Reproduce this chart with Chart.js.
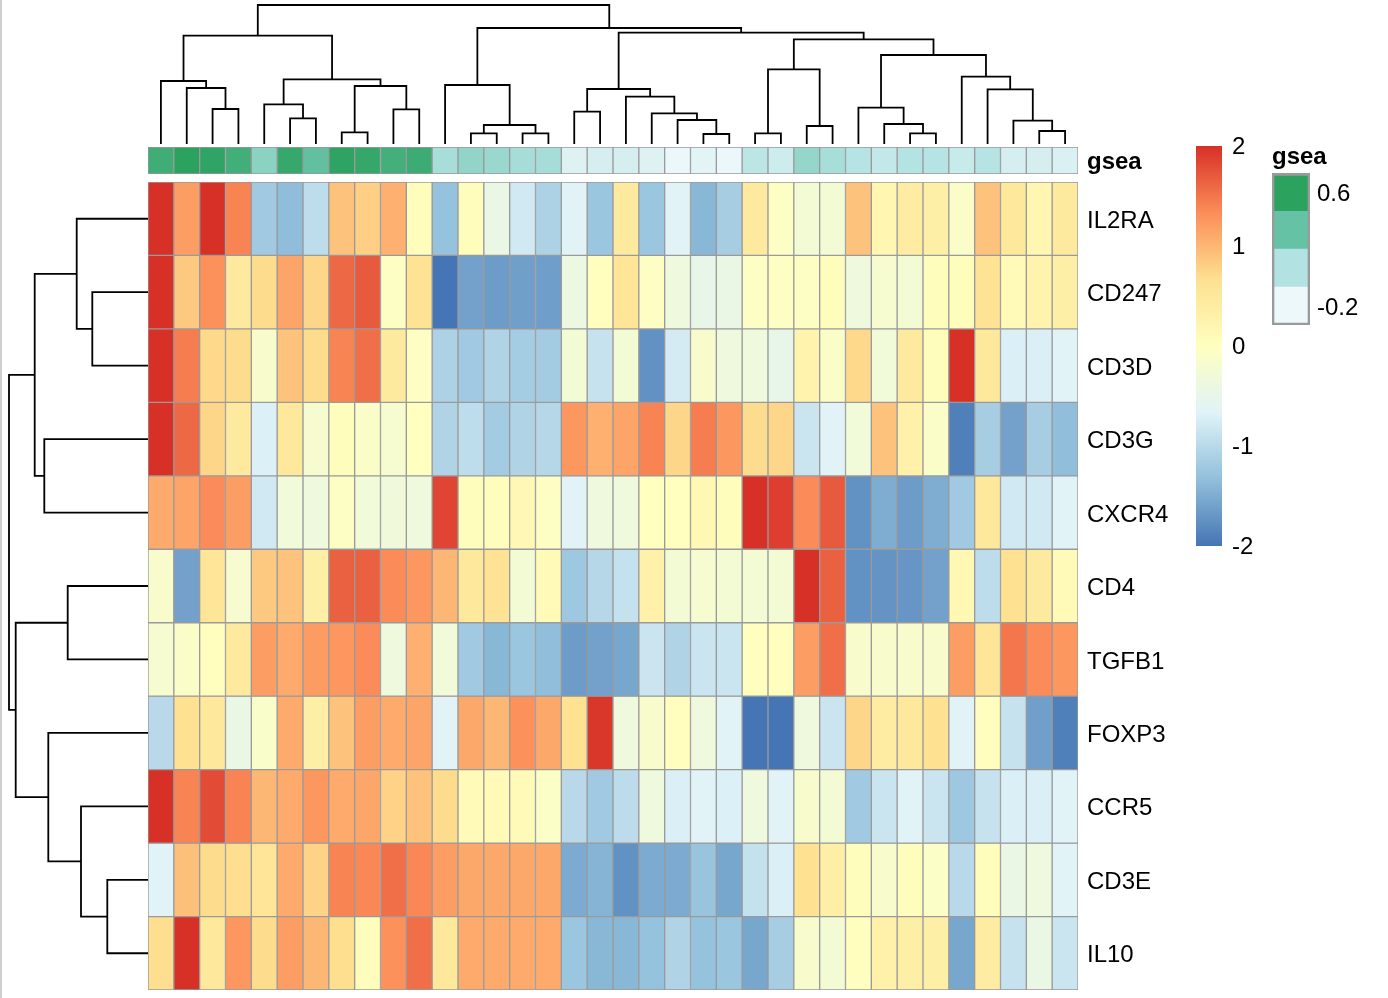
<!DOCTYPE html>
<html lang="en">
<head>
<meta charset="UTF-8">
<title>gsea heatmap</title>
<script src="https://cdn.jsdelivr.net/npm/chart.js@4.4.0/dist/chart.umd.min.js"></script>
<style>
  body { margin: 0; background: #fff; }
  .stage { position: relative; width: 1388px; height: 998px; overflow: hidden; background: #fff; }
  canvas { position: absolute; }
  .edge { position: absolute; left: 0; top: 0; width: 2px; height: 998px; background: #cfcfcf; }
</style>
</head>
<body>
<div class="stage">
  <div class="edge"></div>
  <canvas id="colTree" width="930" height="144" style="left:148px;top:0px"></canvas>
  <canvas id="rowTree" width="148" height="808" style="left:0px;top:182px"></canvas>
  <canvas id="annot" width="1040" height="27" style="left:148px;top:147px"></canvas>
  <canvas id="heat" width="1040" height="808" style="left:148px;top:182px"></canvas>
  <canvas id="colorbar" width="70" height="436" style="left:1196px;top:128px"></canvas>
  <canvas id="gseaLegend" width="98" height="182" style="left:1272px;top:143px"></canvas>
</div>
<script>
// row labels (top to bottom)
const genes = ["IL2RA", "CD247", "CD3D", "CD3G", "CXCR4", "CD4", "TGFB1", "FOXP3", "CCR5", "CD3E", "IL10"];

// scaled expression, 36 columns in dendrogram order
const IL2RA = [2, 1.2, 2, 1.4, -1.2, -1.35, -0.95, 0.9, 0.8, 1.05, 0.05, -1.3, 0.05, -0.45, -0.8, -1.1, -0.65, -1.25, 0.45, -1.25, -0.65, -1.4, -1.15, 0.45, -0.05, -0.25, -0.25, 0.9, 0.2, 0.4, 0.35, -0.1, 0.9, 0.5, 0.2, 0.45];
const CD247 = [2, 0.85, 1.3, 0.45, 0.7, 1.15, 0.75, 1.6, 1.7, -0.05, 0.6, -2, -1.6, -1.65, -1.62, -1.63, -0.4, 0.02, 0.55, -0.05, -0.35, -0.5, -0.45, -0.05, -0.05, -0.05, 0.05, -0.35, -0.2, -0.25, 0.05, 0.05, 0.6, 0.1, 0.25, 0.35];
const CD3D = [2, 1.45, 0.72, 0.7, -0.15, 0.9, 0.7, 1.4, 1.55, 0.45, -0.05, -1.1, -1.2, -1.07, -1.17, -1.18, -0.25, -0.88, -0.25, -1.75, -0.77, -0.15, -0.35, -0.35, -0.5, 0.25, -0.1, 0.72, -0.3, 0.45, 0.05, 2, 0.5, -0.72, -0.72, -0.65];
const CD3G = [2, 1.6, 0.75, 0.45, -0.7, 0.5, -0.2, 0.05, -0.1, -0.2, 0, -1.07, -0.95, -1.18, -1.07, -1.03, 1.25, 1.05, 1.15, 1.4, 0.75, 1.45, 1.25, 0.7, 0.75, -0.85, -0.65, -0.3, 0.9, 0.3, -0.1, -1.9, -1.15, -1.6, -1.15, -1.33];
const CXCR4 = [1.1, 1.15, 1.35, 1.2, -0.8, -0.3, -0.35, -0.05, -0.3, -0.32, -0.35, 1.85, 0.05, 0.05, 0.15, -0.05, -0.65, -0.35, -0.35, 0, 0, 0.15, 0.05, 2, 1.9, 1.35, 1.7, -1.75, -1.5, -1.65, -1.5, -1.2, 0.5, -0.8, -0.8, -0.65];
const CD4 = [-0.15, -1.6, 0.55, -0.2, 0.85, 0.9, 0.35, 1.65, 1.65, 1.35, 1.25, 1.0, 0.5, 0.6, -0.25, 0.1, -1.22, -1.03, -0.9, 0.3, -0.25, -0.2, -0.25, -0.25, -0.25, 2, 1.65, -1.75, -1.72, -1.7, -1.6, 0.15, -0.95, 0.65, 0.45, 0.1];
const TGFB1 = [-0.2, -0.1, 0.02, 0.45, 1.2, 1.1, 1.22, 1.25, 1.35, -0.35, 1.05, -0.3, -1.2, -1.4, -1.25, -1.33, -1.65, -1.6, -1.55, -0.85, -1.07, -0.85, -0.85, 0.02, 0.02, 1.2, 1.55, -0.15, -0.15, -0.15, -0.15, 1.2, 0.55, 1.5, 1.35, 1.25];
const FOXP3 = [-1.0, 0.65, 0.5, -0.45, -0.12, 1.1, 0.35, 0.9, 1.2, 1.1, 1.15, -0.65, 1.12, 1.0, 1.3, 1.12, 0.65, 1.95, -0.35, -0.15, 0.02, -0.35, -0.65, -2, -2, -0.35, -0.85, 0.75, 0.4, 0.5, 0.65, -0.65, 0.02, -0.88, -1.62, -1.9];
const CCR5 = [2, 1.4, 1.8, 1.4, 1.0, 1.1, 1.25, 1.1, 1.13, 0.77, 0.9, 0.7, 0.1, 0.1, 0.1, -0.08, -1.0, -1.2, -0.97, -0.35, -0.72, -0.65, -0.7, -0.35, -0.65, -0.15, -0.25, -1.2, -0.85, -0.65, -0.85, -1.22, -0.88, -0.72, -0.72, -0.65];
const CD3E = [-0.65, 0.92, 0.7, 0.68, 0.55, 1.1, 0.77, 1.4, 1.37, 1.55, 1.37, 1.2, 1.12, 1.12, 1.12, 1.12, -1.52, -1.43, -1.75, -1.52, -1.52, -1.27, -1.55, -0.9, -0.72, 0.65, 0.35, 0.05, -0.15, 0.05, -0.08, -1.0, 0.05, -0.45, -0.35, -0.65];
const IL10 = [0.68, 2, 0.5, 1.25, 0.7, 1.2, 1.0, 0.68, 0.05, 1.3, 1.55, 0.5, 1.1, 1.1, 1.1, 1.1, -1.25, -1.4, -1.4, -1.3, -1.07, -1.3, -1.25, -1.55, -1.15, -0.15, -0.25, 0.02, 0.3, 0.35, 0.35, -1.55, 0.4, -0.88, -0.45, -0.85];

// column annotation
const gsea = [0.51, 0.6, 0.58, 0.5, 0.2, 0.55, 0.35, 0.59, 0.56, 0.49, 0.52, 0.1, 0.18, 0.15, 0.11, 0.11, -0.13, -0.09, -0.09, -0.13, -0.19, -0.15, -0.19, 0.02, -0.05, 0.17, 0.1, 0.05, -0.01, 0.06, 0.05, -0.03, 0.05, -0.09, -0.09, -0.11];

// legend ticks
const colorTicks = [-2, -1, 0, 1, 2];
const gseaTicks = [0.6, -0.2];

// column dendrogram (hclust style: negative = leaf, positive = earlier merge)
const colMerge = [[-13, -14], [-15, -16], [-22, -23], [-24, -25], [-30, -31], [-8, -9], [-35, -36], [-26, -27], [1, 2], [-29, 5],
  [-34, 7], [-21, 3], [-6, -7], [-20, 12], [-17, -18], [-10, -11], [-3, -4], [-28, 10], [-5, 13], [-19, 14],
  [-33, 11], [15, 20], [-2, 17], [6, 16], [-12, 9], [-1, 23], [19, 24], [-32, 21], [4, 8], [18, 28],
  [29, 30], [26, 27], [22, 31], [25, 33], [32, 34]];
const colHeight = [10.7, 10.7, 10, 10.7, 10.7, 11.7, 13, 18, 19, 20,
  23.3, 24, 25.7, 30.7, 32.3, 34.7, 35, 36.3, 39.7, 47.3,
  54.7, 55, 56, 58, 59, 63, 64.7, 67.3, 74.7, 89,
  104.7, 108.3, 111.3, 116, 139];

// row dendrogram
const rowMerge = [[-10, -11], [-2, -3], [-9, 1], [-1, 2], [-6, -7], [-8, 3], [-4, -5], [4, 7], [5, 6], [8, 9]];
const rowHeight = [40.7, 55.7, 67, 71.3, 80.3, 99.7, 103.7, 113.3, 132.3, 139];

// palettes
const heatStops = ["#4575B4", "#91BFDB", "#E0F3F8", "#FFFFBF", "#FEE090", "#FC8D59", "#D73027"];
const gseaStops = ["#EDF8FB", "#B2E2E2", "#66C2A4", "#2CA25F"];

const FONT = "'Liberation Sans', Arial, Helvetica, sans-serif";
const heatRows = [IL2RA, CD247, CD3D, CD3G, CXCR4, CD4, TGFB1, FOXP3, CCR5, CD3E, IL10];

function hexToRgb(h) {
  const n = parseInt(h.slice(1), 16);
  return [(n >> 16) & 255, (n >> 8) & 255, n & 255];
}

function ramp(stops, lo, hi, v) {
  const t = Math.min(1, Math.max(0, (v - lo) / (hi - lo))) * (stops.length - 1);
  const i = Math.min(stops.length - 2, Math.floor(t));
  const f = t - i;
  const a = hexToRgb(stops[i]);
  const b = hexToRgb(stops[i + 1]);
  const c = a.map((x, k) => Math.round(x + (b[k] - x) * f));
  return "rgb(" + c.join(",") + ")";
}

// fixed axis width, no extra label padding above/below
function fixAxis(width, padTop, padBottom) {
  return function (scale) {
    scale.width = width;
    scale.paddingTop = padTop || 0;
    scale.paddingBottom = padBottom || 0;
  };
}

// U-shaped links of a dendrogram, leaf i sits at i - 0.5
function treeLinks(merge, height) {
  const nodes = [];
  const links = [];
  merge.forEach(function (m, k) {
    const ends = m.map((id) => (id < 0 ? [-id - 0.5, 0] : nodes[id - 1]));
    const h = height[k];
    links.push([
      { p: ends[0][0], h: ends[0][1] },
      { p: ends[0][0], h: h },
      { p: ends[1][0], h: h },
      { p: ends[1][0], h: ends[1][1] },
    ]);
    nodes.push([(ends[0][0] + ends[1][0]) / 2, h]);
  });
  return links;
}

const baseOptions = {
  responsive: false,
  animation: false,
  events: [],
  layout: { padding: 0 },
  plugins: { legend: { display: false }, tooltip: { enabled: false }, title: { display: false } },
};

function treeChart(id, links, horizontal, xRange, yRange) {
  new Chart(document.getElementById(id), {
    type: "scatter",
    data: {
      datasets: links.map((l) => ({
        data: l.map((q) => (horizontal ? { x: q.h, y: q.p } : { x: q.p, y: q.h })),
        showLine: true,
        borderColor: "#000",
        borderWidth: 1.8,
        pointRadius: 0,
        borderJoinStyle: "miter",
        clip: false,
      })),
    },
    options: Object.assign({}, baseOptions, {
      scales: {
        x: Object.assign({ type: "linear", display: false }, xRange),
        y: Object.assign({ type: "linear", display: false }, yRange),
      },
    }),
  });
}

// dendrograms
treeChart("colTree", treeLinks(colMerge, colHeight), false, { min: 0, max: 36 }, { min: 0, max: 144 });
treeChart("rowTree", treeLinks(rowMerge, rowHeight), true, { min: 0, max: 148, reverse: true }, { min: 0, max: 11, reverse: true });

// heatmap cells
new Chart(document.getElementById("heat"), {
  type: "bar",
  data: {
    labels: genes,
    datasets: genes.map((g, r) => ({
      label: g,
      data: heatRows[r].map((v, c) => ({ x: [c, c + 1], y: g })),
      backgroundColor: heatRows[r].map((v) => ramp(heatStops, -2, 2, v)),
      borderColor: "#9a9a9a",
      borderWidth: 1,
      borderSkipped: false,
      grouped: false,
      barPercentage: 1,
      categoryPercentage: 1,
    })),
  },
  options: Object.assign({}, baseOptions, {
    indexAxis: "y",
    scales: {
      x: { type: "linear", min: 0, max: 36, display: false },
      y: {
        type: "category",
        position: "right",
        grid: { display: false, drawTicks: false },
        border: { display: false },
        ticks: { font: { family: FONT, size: 24 }, color: "#000", padding: 9, labelOffset: 2.5 },
        afterFit: fixAxis(110),
      },
    },
  }),
});

// gsea annotation row
new Chart(document.getElementById("annot"), {
  type: "bar",
  data: {
    labels: ["gsea"],
    datasets: [{
      data: gsea.map((v, c) => ({ x: [c, c + 1], y: "gsea" })),
      backgroundColor: gsea.map((v) => ramp(gseaStops, -0.2, 0.6, v)),
      borderColor: "#9a9a9a",
      borderWidth: 1,
      borderSkipped: false,
      barPercentage: 1,
      categoryPercentage: 1,
    }],
  },
  options: Object.assign({}, baseOptions, {
    indexAxis: "y",
    scales: {
      x: { type: "linear", min: 0, max: 36, display: false },
      y: {
        type: "category",
        position: "right",
        grid: { display: false, drawTicks: false },
        border: { display: false },
        ticks: { font: { family: FONT, size: 24, weight: "bold" }, color: "#000", padding: 9, labelOffset: 2 },
        afterFit: fixAxis(110),
      },
    },
  }),
});

// colour key
new Chart(document.getElementById("colorbar"), {
  type: "bar",
  data: {
    labels: [""],
    datasets: [{
      data: [[colorTicks[0], colorTicks[colorTicks.length - 1]]],
      backgroundColor: function (ctx) {
        const area = ctx.chart.chartArea;
        if (!area) return heatStops[3];
        const grad = ctx.chart.ctx.createLinearGradient(0, area.bottom, 0, area.top);
        heatStops.forEach((s, i) => grad.addColorStop(i / (heatStops.length - 1), s));
        return grad;
      },
      borderWidth: 0,
      barPercentage: 1,
      categoryPercentage: 1,
    }],
  },
  options: Object.assign({}, baseOptions, {
    scales: {
      x: { display: false },
      y: {
        type: "linear",
        min: colorTicks[0],
        max: colorTicks[colorTicks.length - 1],
        position: "right",
        grid: { display: false, drawTicks: false },
        border: { display: false },
        afterBuildTicks: (scale) => { scale.ticks = colorTicks.map((v) => ({ value: v })); },
        ticks: { font: { family: FONT, size: 24 }, color: "#000", padding: 10, labelOffset: 1.5, callback: (v) => String(v) },
        afterFit: fixAxis(44, 18, 18),
      },
    },
  }),
});

// gsea legend: four boxes centred on the tick values
const boxStep = (gseaTicks[0] - gseaTicks[1]) / 3;
const boxCentres = [0, 1, 2, 3].map((i) => gseaTicks[0] - i * boxStep);
new Chart(document.getElementById("gseaLegend"), {
  type: "bar",
  data: {
    labels: ["gsea"],
    datasets: [
      {
        data: [{ x: "gsea", y: [gseaTicks[1] - boxStep / 2, gseaTicks[0] + boxStep / 2] }],
        backgroundColor: "rgba(0,0,0,0)",
        borderColor: "#9a9a9a",
        borderWidth: 2,
        borderSkipped: false,
        grouped: false,
        barPercentage: 1,
        categoryPercentage: 1,
        order: 0,
      },
      {
        data: boxCentres.map((c) => ({ x: "gsea", y: [c - boxStep / 2, c + boxStep / 2] })),
        backgroundColor: gseaStops.slice().reverse(),
        borderWidth: 0,
        grouped: false,
        barPercentage: 1,
        categoryPercentage: 1,
        order: 1,
      },
    ],
  },
  options: Object.assign({}, baseOptions, {
    plugins: {
      legend: { display: false },
      tooltip: { enabled: false },
      title: {
        display: true,
        text: "gsea",
        align: "start",
        color: "#000",
        font: { family: FONT, size: 24, weight: "bold", lineHeight: 1.2 },
        padding: { top: 0, bottom: 1.5 },
      },
    },
    scales: {
      x: { display: false },
      y: {
        type: "linear",
        min: gseaTicks[1] - boxStep / 2,
        max: gseaTicks[0] + boxStep / 2,
        position: "right",
        grid: { display: false, drawTicks: false },
        border: { display: false },
        afterBuildTicks: (scale) => { scale.ticks = gseaTicks.map((v) => ({ value: v })); },
        ticks: { font: { family: FONT, size: 24 }, color: "#000", padding: 7, labelOffset: 2, callback: (v) => String(v) },
        afterFit: fixAxis(60),
      },
    },
  }),
});
</script>
</body>
</html>
